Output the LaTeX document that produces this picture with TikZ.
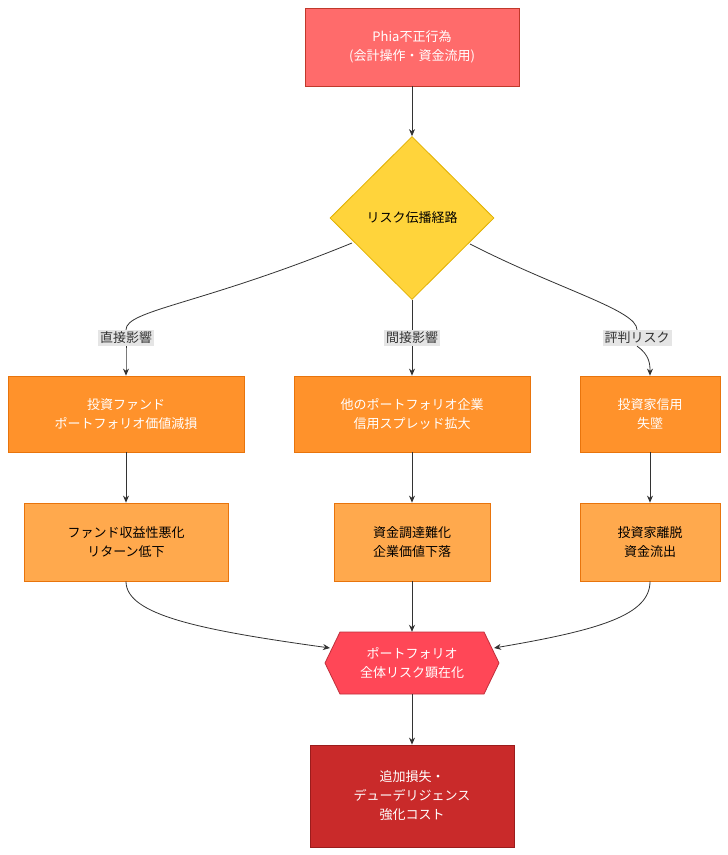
\documentclass[tikz,border=0pt]{standalone}
\usepackage{fontspec}
\setmainfont{Noto Sans CJK JP}
\usetikzlibrary{shapes.geometric,arrows.meta}
\definecolor{cTop}{HTML}{FF6B6B}
\definecolor{cTopB}{HTML}{C0392B}
\definecolor{cDia}{HTML}{FFD43B}
\definecolor{cDiaB}{HTML}{E0B000}
\definecolor{cO1}{HTML}{FF922B}
\definecolor{cO1B}{HTML}{E8740C}
\definecolor{cO2}{HTML}{FFA94D}
\definecolor{cHex}{HTML}{FF4757}
\definecolor{cHexB}{HTML}{C0303C}
\definecolor{cBot}{HTML}{C92A2A}
\definecolor{cBotB}{HTML}{9B1C1C}
\definecolor{cLine}{HTML}{333333}
\begin{document}
\begin{tikzpicture}[x=1pt,y=-1pt,font=\fontsize{13}{19}\selectfont,
 box/.style={rectangle,draw,line width=0.8pt,align=center,inner sep=0pt},
 edge/.style={draw=cLine,line width=0.8pt,-{Stealth[length=7pt,width=6pt]}},
 lab/.style={fill=black!10,inner sep=2pt,text=black!80}]
\fill[white] (0,0) rectangle (728,855);
\useasboundingbox (0,0) rectangle (728,855);
\node[box,fill=cTop,draw=cTopB,text=white,minimum width=214pt,minimum height=78pt] (top) at (412,47) {Phia不正行為\\(会計操作・資金流用)};
\node[diamond,draw=cDiaB,fill=cDia,line width=0.8pt,minimum width=164pt,minimum height=163pt,inner sep=0pt] (dia) at (412,218) {リスク伝播経路};
\node[box,fill=cO1,draw=cO1B,text=white,minimum width=236pt,minimum height=76pt] (a1) at (126,414) {投資ファンド\\ポートフォリオ価値減損};
\node[box,fill=cO1,draw=cO1B,text=white,minimum width=236pt,minimum height=76pt] (b1) at (412,414) {他のポートフォリオ企業\\信用スプレッド拡大};
\node[box,fill=cO1,draw=cO1B,text=white,minimum width=140pt,minimum height=76pt] (c1) at (650,414) {投資家信用\\失墜};
\node[box,fill=cO2,draw=cO1B,minimum width=204pt,minimum height=78pt] (a2) at (126,542) {ファンド収益性悪化\\リターン低下};
\node[box,fill=cO2,draw=cO1B,minimum width=156pt,minimum height=78pt] (b2) at (412,542) {資金調達難化\\企業価値下落};
\node[box,fill=cO2,draw=cO1B,minimum width=140pt,minimum height=78pt] (c2) at (650,542) {投資家離脱\\資金流出};
\fill[cHex,draw=cHexB,line width=0.8pt] (325,663)--(340,632)--(484,632)--(499,663)--(484,694)--(340,694)--cycle;
\node[align=center,text=white,minimum width=174pt,minimum height=62pt,inner sep=0pt] (hex) at (412,663) {ポートフォリオ\\全体リスク顕在化};
\node[box,fill=cBot,draw=cBotB,text=white,minimum width=204pt,minimum height=102pt] (bot) at (412,796) {追加損失・\\デューデリジェンス\\強化コスト};
\node[lab] (l1) at (126,338) {直接影響};
\node[lab] (l2) at (412,338) {間接影響};
\node[lab] (l3) at (637,338) {評判リスク};
\draw[edge] (top) -- (dia);
\draw[draw=cLine,line width=0.8pt] (dia.south) -- (l2);
\draw[edge] (l2) -- (b1);
\draw[draw=cLine,line width=0.8pt] (352,243) .. controls (200,305) and (126,310) .. (l1.north);
\draw[edge] (l1.south) .. controls (126,355) and (126,365) .. (a1.north);
\draw[draw=cLine,line width=0.8pt] (470,244) .. controls (560,290) and (637,310) .. (l3.north);
\draw[edge] (l3.south) .. controls (650,355) and (650,365) .. (c1.north);
\draw[edge] (a1) -- (a2);
\draw[edge] (b1) -- (b2);
\draw[edge] (c1) -- (c2);
\draw[edge] (a2.south) .. controls (126,615) and (200,630) .. (330,648);
\draw[edge] (b2) -- (hex);
\draw[edge] (c2.south) .. controls (650,615) and (600,630) .. (494,648);
\draw[edge] (hex) -- (bot);
\end{tikzpicture}
\end{document}
